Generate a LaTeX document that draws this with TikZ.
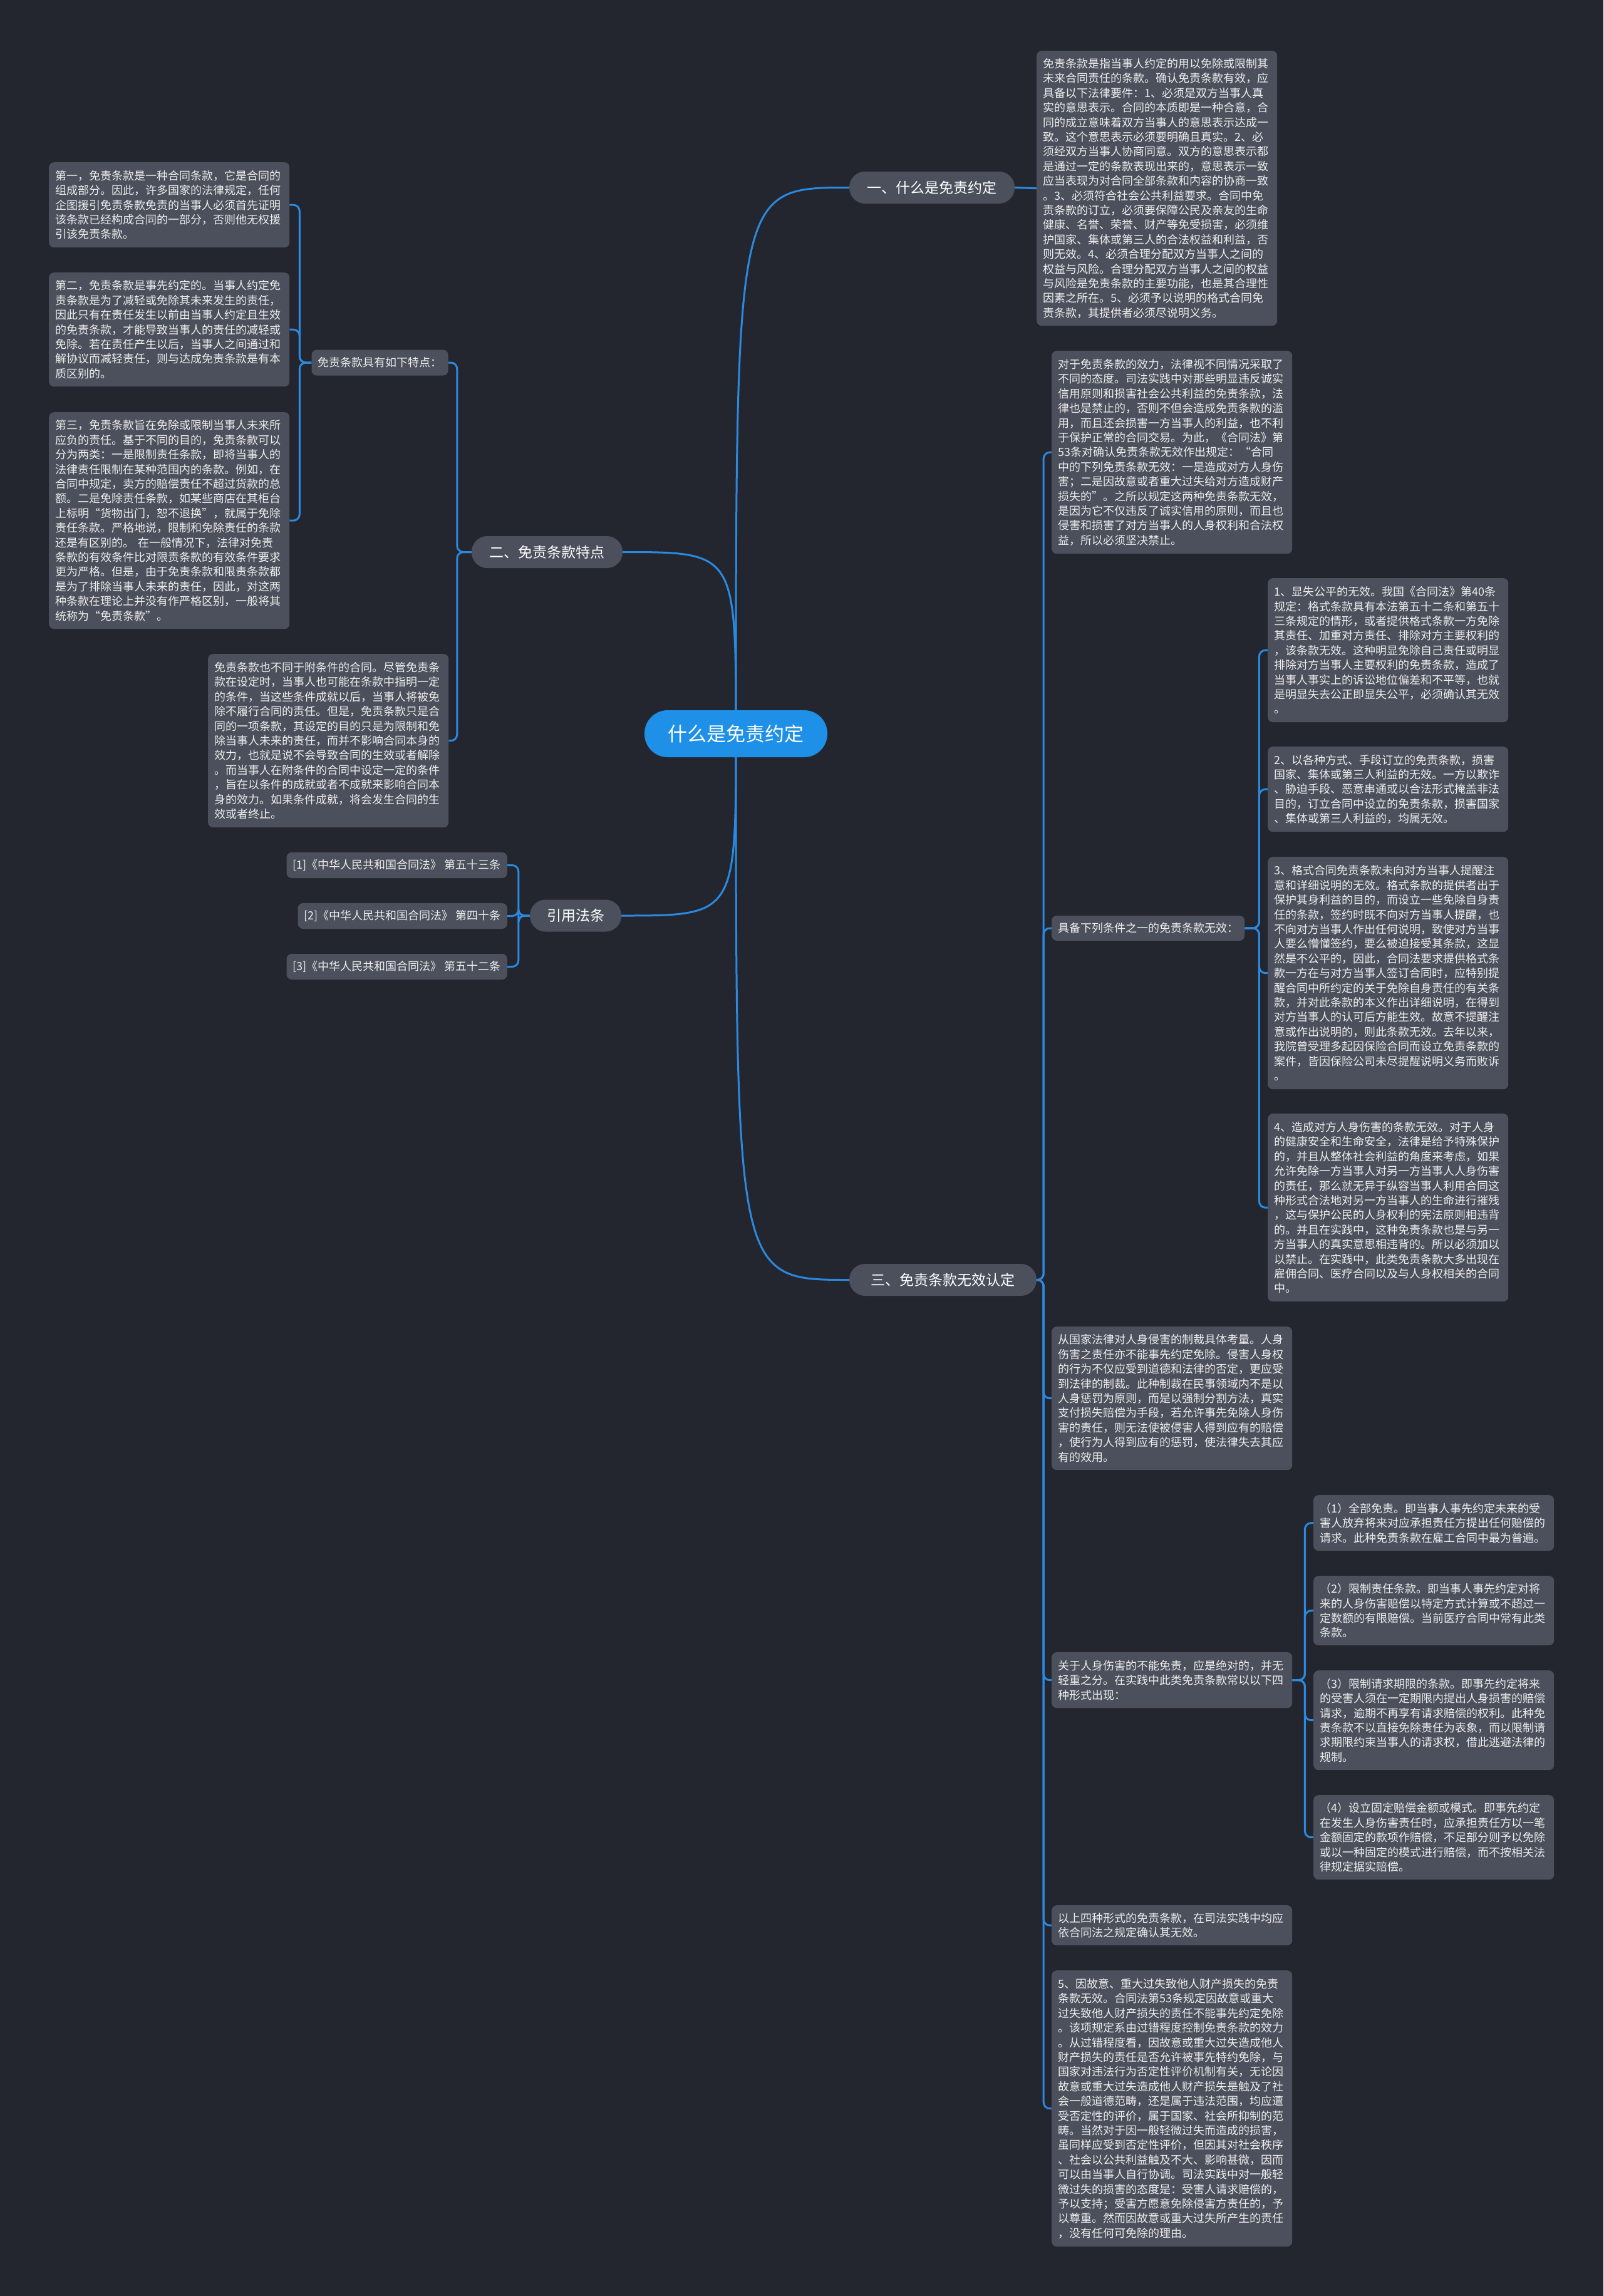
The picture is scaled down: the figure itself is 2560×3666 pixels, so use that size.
\documentclass[tikz,border=0pt]{standalone}
\usepackage{fontspec}
\setmainfont{Noto Sans CJK SC}
\definecolor{bgdark}{HTML}{23262F}
\definecolor{boxgray}{HTML}{4B505C}
\definecolor{textwhite}{HTML}{EEEEEE}
\definecolor{linkblue}{HTML}{2B8AE0}
\definecolor{rootblue}{HTML}{1E90E8}
\newcommand{\leaffont}{\fontsize{18}{23.4}\selectfont\lineskiplimit=-50pt}
\newcommand{\branchfont}{\fontsize{23}{28}\selectfont}
\newcommand{\rootfont}{\fontsize{31}{36}\selectfont}
\pgfdeclarelayer{bg}
\pgfdeclarelayer{links}
\pgfsetlayers{bg,links,main}
\begin{document}
\begin{tikzpicture}[x=1pt,y=-1pt,
  leaf/.style = {fill=boxgray,text=textwhite,rounded corners=8pt,font=\leaffont,
    text width=364pt,align=left,inner xsep=10pt,inner ysep=6pt,anchor=north west},
  tag/.style = {fill=boxgray,text=textwhite,rounded corners=8pt,font=\leaffont,
    inner xsep=10pt,minimum height=41pt},
  branch/.style = {fill=boxgray,text=white,rounded corners=25pt,font=\branchfont,minimum height=51pt},
  topic/.style = {fill=rootblue,text=white,rounded corners=37pt,font=\rootfont,
    minimum width=292pt,minimum height=75pt},
  spoke/.style = {draw=linkblue,line width=3pt},
  link/.style = {draw=linkblue,line width=3pt,rounded corners=10pt}]
\useasboundingbox (0,0) rectangle (2560,3666);
\begin{pgfonlayer}{bg}
  \fill[bgdark] (0,0) rectangle (2560,3666);
\end{pgfonlayer}

\node[topic] (root) at (1175,1171.5) {什么是免责约定};

\node[branch,minimum width=264pt] (b1) at (1488,299.5) {一、什么是免责约定};
\node[branch,minimum width=241pt] (b2) at (873.5,881.5) {二、免责条款特点};
\node[branch,minimum width=146pt] (b3) at (919,1462) {引用法条};
\node[branch,minimum width=299pt] (b4) at (1505.5,2043.5) {三、免责条款无效认定};

\node[leaf,minimum height=439pt] (dA) at (1655,81) {免责条款是指当事人约定的用以免除或限制其\\
未来合同责任的条款。确认免责条款有效，应\\
具备以下法律要件：1、必须是双方当事人真\\
实的意思表示。合同的本质即是一种合意，合\\
同的成立意味着双方当事人的意思表示达成一\\
致。这个意思表示必须要明确且真实。2、必\\
须经双方当事人协商同意。双方的意思表示都\\
是通过一定的条款表现出来的，意思表示一致\\
应当表现为对合同全部条款和内容的协商一致\\
。3、必须符合社会公共利益要求。合同中免\\
责条款的订立，必须要保障公民及亲友的生命\\
健康、名誉、荣誉、财产等免受损害，必须维\\
护国家、集体或第三人的合法权益和利益，否\\
则无效。4、必须合理分配双方当事人之间的\\
权益与风险。合理分配双方当事人之间的权益\\
与风险是免责条款的主要功能，也是其合理性\\
因素之所在。5、必须予以说明的格式合同免\\
责条款，其提供者必须尽说明义务。};

\node[tag] (tz) at (606.5,579) {免责条款具有如下特点：};
\node[leaf,minimum height=136pt] (dB) at (78,259) {第一，免责条款是一种合同条款，它是合同的\\
组成部分。因此，许多国家的法律规定，任何\\
企图援引免责条款免责的当事人必须首先证明\\
该条款已经构成合同的一部分，否则他无权援\\
引该免责条款。};
\node[leaf,minimum height=182pt] (dC) at (78,435) {第二，免责条款是事先约定的。当事人约定免\\
责条款是为了减轻或免除其未来发生的责任，\\
因此只有在责任发生以前由当事人约定且生效\\
的免责条款，才能导致当事人的责任的减轻或\\
免除。若在责任产生以后，当事人之间通过和\\
解协议而减轻责任，则与达成免责条款是有本\\
质区别的。};
\node[leaf,minimum height=346pt] (dD) at (78,658) {第三，免责条款旨在免除或限制当事人未来所\\
应负的责任。基于不同的目的，免责条款可以\\
分为两类：一是限制责任条款，即将当事人的\\
法律责任限制在某种范围内的条款。例如，在\\
合同中规定，卖方的赔偿责任不超过货款的总\\
额。二是免除责任条款，如某些商店在其柜台\\
上标明“货物出门，恕不退换”，就属于免除\\
责任条款。严格地说，限制和免除责任的条款\\
还是有区别的。~在一般情况下，法律对免责\\
条款的有效条件比对限责条款的有效条件要求\\
更为严格。但是，由于免责条款和限责条款都\\
是为了排除当事人未来的责任，因此，对这两\\
种条款在理论上并没有作严格区别，一般将其\\
统称为“免责条款”。};
\node[leaf,minimum height=277pt] (dE) at (332,1044) {免责条款也不同于附条件的合同。尽管免责条\\
款在设定时，当事人也可能在条款中指明一定\\
的条件，当这些条件成就以后，当事人将被免\\
除不履行合同的责任。但是，免责条款只是合\\
同的一项条款，其设定的目的只是为限制和免\\
除当事人未来的责任，而并不影响合同本身的\\
效力，也就是说不会导致合同的生效或者解除\\
。而当事人在附条件的合同中设定一定的条件\\
，旨在以条件的成就或者不成就来影响合同本\\
身的效力。如果条件成就，将会发生合同的生\\
效或者终止。};

\node[tag,anchor=east] (c1) at (810,1381.5) {[1]《中华人民共和国合同法》 第五十三条};
\node[tag,anchor=east] (c2) at (810,1462.5) {[2]《中华人民共和国合同法》 第四十条};
\node[tag,anchor=east] (c3) at (810,1543.5) {[3]《中华人民共和国合同法》 第五十二条};

\node[leaf,minimum height=324pt] (dF) at (1679,560) {对于免责条款的效力，法律视不同情况采取了\\
不同的态度。司法实践中对那些明显违反诚实\\
信用原则和损害社会公共利益的免责条款，法\\
律也是禁止的，否则不但会造成免责条款的滥\\
用，而且还会损害一方当事人的利益，也不利\\
于保护正常的合同交易。为此，《合同法》第\\
53条对确认免责条款无效作出规定：“合同\\
中的下列免责条款无效：一是造成对方人身伤\\
害；二是因故意或者重大过失给对方造成财产\\
损失的”。之所以规定这两种免责条款无效，\\
是因为它不仅违反了诚实信用的原则，而且也\\
侵害和损害了对方当事人的人身权利和合法权\\
益，所以必须坚决禁止。};
\node[tag,anchor=west,minimum height=40pt] (jb) at (1679,1482) {具备下列条件之一的免责条款无效：};

\node[leaf,minimum height=230pt] (i1) at (2024,923) {1、显失公平的无效。我国《合同法》第40条\\
规定：格式条款具有本法第五十二条和第五十\\
三条规定的情形，或者提供格式条款一方免除\\
其责任、加重对方责任、排除对方主要权利的\\
，该条款无效。这种明显免除自己责任或明显\\
排除对方当事人主要权利的免责条款，造成了\\
当事人事实上的诉讼地位偏差和不平等，也就\\
是明显失去公正即显失公平，必须确认其无效\\
。};
\node[leaf,minimum height=136pt] (i2) at (2024,1192) {2、以各种方式、手段订立的免责条款，损害\\
国家、集体或第三人利益的无效。一方以欺诈\\
、胁迫手段、恶意串通或以合法形式掩盖非法\\
目的，订立合同中设立的免责条款，损害国家\\
、集体或第三人利益的，均属无效。};
\node[leaf,minimum height=371pt] (i3) at (2024,1368) {3、格式合同免责条款未向对方当事人提醒注\\
意和详细说明的无效。格式条款的提供者出于\\
保护其身利益的目的，而设立一些免除自身责\\
任的条款，签约时既不向对方当事人提醒，也\\
不向对方当事人作出任何说明，致使对方当事\\
人要么懵懂签约，要么被迫接受其条款，这显\\
然是不公平的，因此，合同法要求提供格式条\\
款一方在与对方当事人签订合同时，应特别提\\
醒合同中所约定的关于免除自身责任的有关条\\
款，并对此条款的本义作出详细说明，在得到\\
对方当事人的认可后方能生效。故意不提醒注\\
意或作出说明的，则此条款无效。去年以来，\\
我院曾受理多起因保险合同而设立免责条款的\\
案件，皆因保险公司未尽提醒说明义务而败诉\\
。};
\node[leaf,minimum height=300pt] (i4) at (2024,1778) {4、造成对方人身伤害的条款无效。对于人身\\
的健康安全和生命安全，法律是给予特殊保护\\
的，并且从整体社会利益的角度来考虑，如果\\
允许免除一方当事人对另一方当事人人身伤害\\
的责任，那么就无异于纵容当事人利用合同这\\
种形式合法地对另一方当事人的生命进行摧残\\
，这与保护公民的人身权利的宪法原则相违背\\
的。并且在实践中，这种免责条款也是与另一\\
方当事人的真实意思相违背的。所以必须加以\\
以禁止。在实践中，此类免责条款大多出现在\\
雇佣合同、医疗合同以及与人身权相关的合同\\
中。};

\node[leaf,minimum height=229pt] (dG) at (1679,2118) {从国家法律对人身侵害的制裁具体考量。人身\\
伤害之责任亦不能事先约定免除。侵害人身权\\
的行为不仅应受到道德和法律的否定，更应受\\
到法律的制裁。此种制裁在民事领域内不是以\\
人身惩罚为原则，而是以强制分割方法，真实\\
支付损失赔偿为手段，若允许事先免除人身伤\\
害的责任，则无法使被侵害人得到应有的赔偿\\
，使行为人得到应有的惩罚，使法律失去其应\\
有的效用。};
\node[leaf,minimum height=89pt] (dH) at (1679,2638) {关于人身伤害的不能免责，应是绝对的，并无\\
轻重之分。在实践中此类免责条款常以以下四\\
种形式出现：};

\node[leaf,minimum height=89pt] (s1) at (2097,2387) {（1）全部免责。即当事人事先约定未来的受\\
害人放弃将来对应承担责任方提出任何赔偿的\\
请求。此种免责条款在雇工合同中最为普遍。};
\node[leaf,minimum height=111pt] (s2) at (2097,2516) {（2）限制责任条款。即当事人事先约定对将\\
来的人身伤害赔偿以特定方式计算或不超过一\\
定数额的有限赔偿。当前医疗合同中常有此类\\
条款。};
\node[leaf,minimum height=159pt] (s3) at (2097,2667) {（3）限制请求期限的条款。即事先约定将来\\
的受害人须在一定期限内提出人身损害的赔偿\\
请求，逾期不再享有请求赔偿的权利。此种免\\
责条款不以直接免除责任为表象，而以限制请\\
求期限约束当事人的请求权，借此逃避法律的\\
规制。};
\node[leaf,minimum height=135pt] (s4) at (2097,2866) {（4）设立固定赔偿金额或模式。即事先约定\\
在发生人身伤害责任时，应承担责任方以一笔\\
金额固定的款项作赔偿，不足部分则予以免除\\
或以一种固定的模式进行赔偿，而不按相关法\\
律规定据实赔偿。};

\node[leaf,minimum height=64pt] (dI) at (1679,3042) {以上四种形式的免责条款，在司法实践中均应\\
依合同法之规定确认其无效。};
\node[leaf,minimum height=441pt] (dJ) at (1679,3146) {5、因故意、重大过失致他人财产损失的免责\\
条款无效。合同法第53条规定因故意或重大\\
过失致他人财产损失的责任不能事先约定免除\\
。该项规定系由过错程度控制免责条款的效力\\
。从过错程度看，因故意或重大过失造成他人\\
财产损失的责任是否允许被事先特约免除，与\\
国家对违法行为否定性评价机制有关，无论因\\
故意或重大过失造成他人财产损失是触及了社\\
会一般道德范畴，还是属于违法范围，均应遭\\
受否定性的评价，属于国家、社会所抑制的范\\
畴。当然对于因一般轻微过失而造成的损害，\\
虽同样应受到否定性评价，但因其对社会秩序\\
、社会以公共利益触及不大、影响甚微，因而\\
可以由当事人自行协调。司法实践中对一般轻\\
微过失的损害的态度是：受害人请求赔偿的，\\
予以支持；受害方愿意免除侵害方责任的，予\\
以尊重。然而因故意或重大过失所产生的责任\\
，没有任何可免除的理由。};

\begin{pgfonlayer}{links}
  \draw[spoke] (root.center) .. controls (root |- b1) .. (b1.west);
  \draw[spoke] (root.center) .. controls (root |- b2) .. (b2.east);
  \draw[spoke] (root.center) .. controls (root |- b3) .. (b3.east);
  \draw[spoke] (root.center) .. controls (root |- b4) .. (b4.west);
  \draw[spoke] (b1.east) -- (dA.west);
  \foreach \n in {tz,dE}
    \draw[link] (b2.west) -- ++(-23,0) |- (\n.east);
  \foreach \n in {dB,dC,dD}
    \draw[link] (tz.west) -- ++(-19,0) |- (\n.east);
  \foreach \n in {c1,c2,c3}
    \draw[link] (b3.west) -- ++(-18,0) |- (\n.east);
  \foreach \n in {dF,jb,dG,dH,dI,dJ}
    \draw[link] (b4.east) -- ++(11,0) |- (\n.west);
  \foreach \n in {i1,i2,i3,i4}
    \draw[link] (jb.east) -- ++(23,0) |- (\n.west);
  \foreach \n in {s1,s2,s3,s4}
    \draw[link] (dH.east) -- ++(20,0) |- (\n.west);
\end{pgfonlayer}
\end{tikzpicture}
\end{document}
